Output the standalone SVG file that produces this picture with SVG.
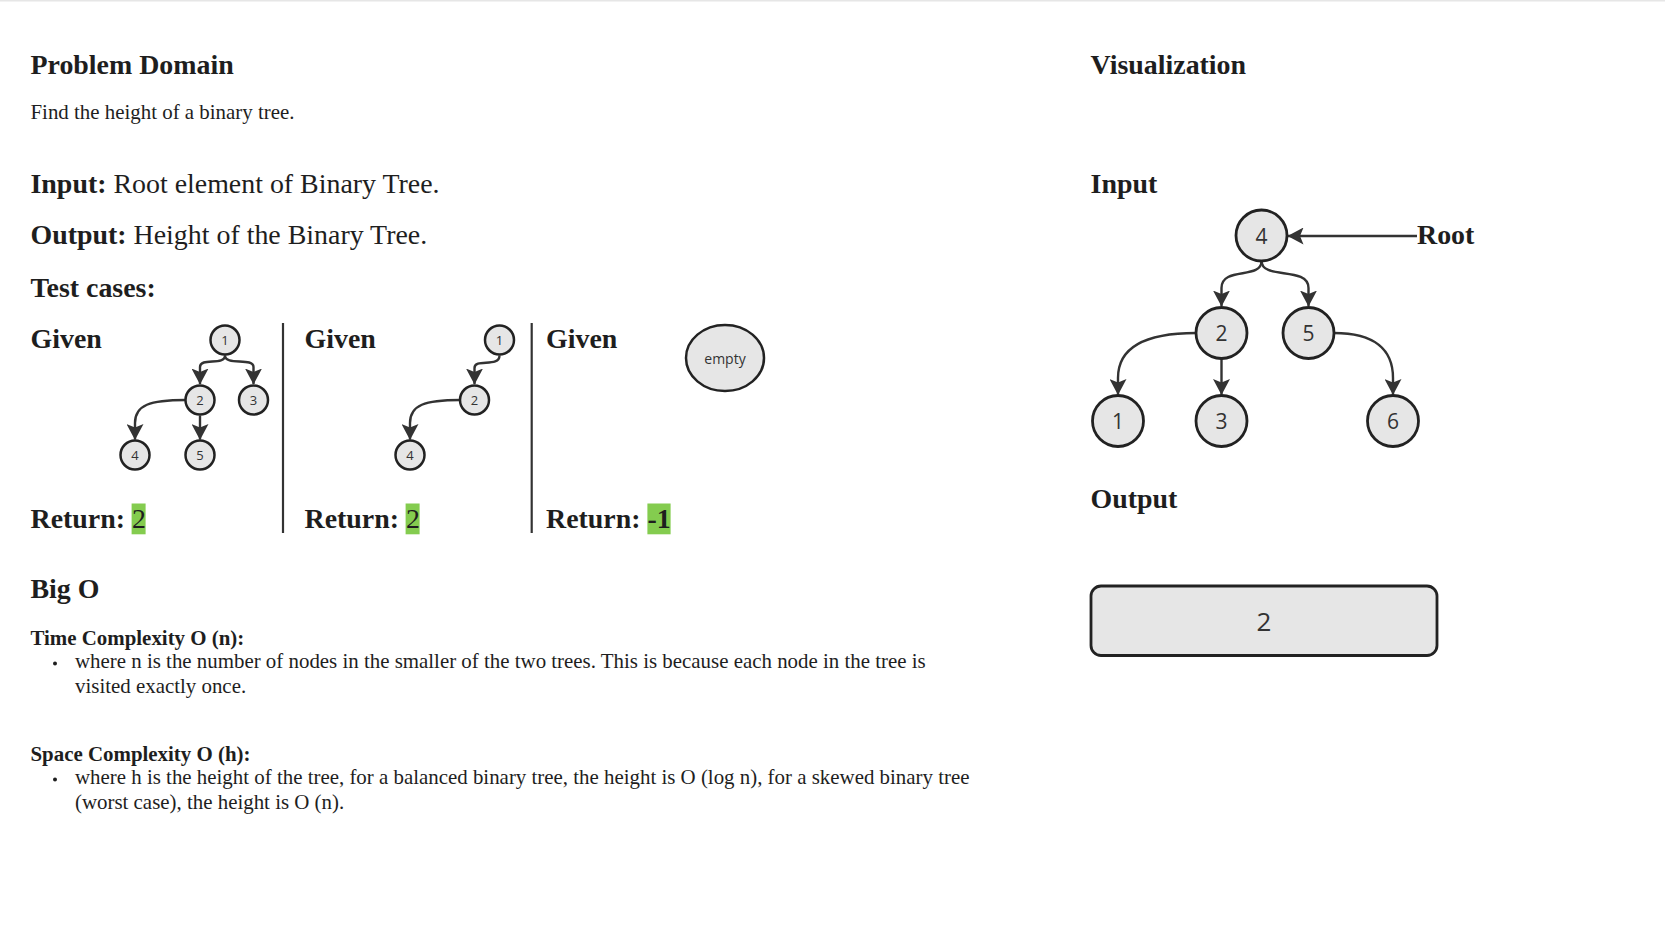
<svg xmlns="http://www.w3.org/2000/svg" width="1665" height="937" viewBox="0 0 1665 937">
<defs>
<style>
.h{font-family:"Liberation Serif","Times New Roman",serif;font-weight:bold;font-size:27.9px;fill:#1e1e1e}
.r{font-family:"Liberation Serif","Times New Roman",serif;font-weight:normal;fill:#1e1e1e}
.p{font-family:"Liberation Serif","Times New Roman",serif;font-size:20.9px;fill:#1e1e1e}
.pb{font-family:"Liberation Serif","Times New Roman",serif;font-size:20.9px;font-weight:bold;fill:#1e1e1e}
.node{fill:#e6e6e6;stroke:#222;stroke-width:2.5}
.bn{fill:#e6e6e6;stroke:#222;stroke-width:2.8}
.lbl{font-family:"Open Sans","Noto Sans",sans-serif;fill:#333;text-anchor:middle;dominant-baseline:central}
.edge{fill:none;stroke:#333;stroke-width:2.4}
.sep{stroke:#333;stroke-width:2.2}
.hl{fill:#84cc4f}
</style>
<marker id="ah" viewBox="0 0 16 17" refX="15.5" refY="8.5" markerWidth="16" markerHeight="17" markerUnits="userSpaceOnUse" orient="auto">
<path d="M0,0 L16,8.5 L0,17 L3.5,8.5 Z" fill="#333"/>
</marker>
</defs>
<rect width="1665" height="937" fill="#ffffff"/>
<rect x="0" y="0" width="1665" height="1.5" fill="#e6e6e6"/>

<g id="problem-text">
<text class="h" x="30.5" y="74.3">Problem Domain</text>
<text class="r" x="30.5" y="119" font-size="20.9">Find the height of a binary tree.</text>
<text class="h" x="30.5" y="193.3">Input:<tspan class="r"> Root element of Binary Tree.</tspan></text>
<text class="h" x="30.5" y="244">Output:<tspan class="r"> Height of the Binary Tree.</tspan></text>
<text class="h" x="30.5" y="296.7">Test cases:</text>
</g>

<g id="separators">
<line class="sep" x1="283" y1="323" x2="283" y2="533"/>
<line class="sep" x1="531.7" y1="323" x2="531.7" y2="533"/>
</g>

<g id="case1">
<text class="h" x="30.5" y="348">Given</text>
<rect class="hl" x="131.6" y="503.5" width="14" height="30.8"/>
<text class="h" x="30.5" y="528.3">Return: <tspan class="r">2</tspan></text>
</g>
<g id="case2">
<text class="h" x="304.5" y="348">Given</text>
<rect class="hl" x="405.6" y="503.5" width="14" height="30.8"/>
<text class="h" x="304.5" y="528.3">Return: <tspan class="r">2</tspan></text>
</g>
<g id="case3">
<text class="h" x="546" y="348">Given</text>
<rect class="hl" x="647.4" y="503.5" width="23.2" height="30.8"/>
<text class="h" x="546" y="528.3">Return: -1</text>
</g>

<g id="connectors">
<path class="edge" marker-end="url(#ah)" d="M225,355.5 C225,366 200,357 200,367 L200,384"/>
<path class="edge" marker-end="url(#ah)" d="M225,355.5 C225,366 253.5,357 253.5,367 L253.5,384"/>
<path class="edge" marker-end="url(#ah)" d="M185.5,400 C150,400 135,405 135,423 L135,439.5"/>
<path class="edge" marker-end="url(#ah)" d="M200,415.5 L200,439.5"/>
<path class="edge" marker-end="url(#ah)" d="M499.5,355.5 C499.5,368 474.5,358 474.5,368 L474.5,384"/>
<path class="edge" marker-end="url(#ah)" d="M460,400 C425,400 410,405 410,423 L410,439.5"/>
<path class="edge" marker-end="url(#ah)" d="M1417,236 L1288,236"/>
<path class="edge" marker-end="url(#ah)" d="M1261.5,261 C1261.5,280 1221.5,266 1221.5,288 L1221.5,306"/>
<path class="edge" marker-end="url(#ah)" d="M1261.5,261 C1261.5,280 1308.5,266 1308.5,288 L1308.5,306"/>
<path class="edge" marker-end="url(#ah)" d="M1196,333 C1140,333 1118,350 1118,378 L1118,394.5"/>
<path class="edge" marker-end="url(#ah)" d="M1221.5,358.5 L1221.5,394.5"/>
<path class="edge" marker-end="url(#ah)" d="M1334,333 C1375,333 1393,350 1393,378 L1393,394.5"/>
</g>

<g id="t1n1"><circle class="node" cx="225" cy="340" r="14.5"/><text class="lbl" x="225" y="340" font-size="13">1</text></g>
<g id="t1n2"><circle class="node" cx="200" cy="400" r="14.5"/><text class="lbl" x="200" y="400" font-size="13">2</text></g>
<g id="t1n3"><circle class="node" cx="253.5" cy="400" r="14.5"/><text class="lbl" x="253.5" y="400" font-size="13">3</text></g>
<g id="t1n4"><circle class="node" cx="135" cy="455" r="14.5"/><text class="lbl" x="135" y="455" font-size="13">4</text></g>
<g id="t1n5"><circle class="node" cx="200" cy="455" r="14.5"/><text class="lbl" x="200" y="455" font-size="13">5</text></g>

<g id="t2n1"><circle class="node" cx="499.5" cy="340" r="14.5"/><text class="lbl" x="499.5" y="340" font-size="13">1</text></g>
<g id="t2n2"><circle class="node" cx="474.5" cy="400" r="14.5"/><text class="lbl" x="474.5" y="400" font-size="13">2</text></g>
<g id="t2n4"><circle class="node" cx="410" cy="455" r="14.5"/><text class="lbl" x="410" y="455" font-size="13">4</text></g>

<g id="empty"><ellipse class="node" cx="725" cy="358" rx="39" ry="33"/><text class="lbl" x="725" y="358" font-size="14">empty</text></g>

<g id="bigo">
<text class="h" x="30.5" y="598.3">Big O</text>
<text class="pb" x="30.5" y="644.5">Time Complexity O (n):</text>
<circle cx="55" cy="663.5" r="2" fill="#1e1e1e"/>
<text class="p" x="75" y="668">where n is the number of nodes in the smaller of the two trees. This is because each node in the tree is</text>
<text class="p" x="75" y="692.5">visited exactly once.</text>
<text class="pb" x="30.5" y="760.5">Space Complexity O (h):</text>
<circle cx="55" cy="779.5" r="2" fill="#1e1e1e"/>
<text class="p" x="75" y="784">where h is the height of the tree, for a balanced binary tree, the height is O (log n), for a skewed binary tree</text>
<text class="p" x="75" y="808.5">(worst case), the height is O (n).</text>
</g>

<g id="viz-headings">
<text class="h" x="1090.6" y="74.3">Visualization</text>
<text class="h" x="1090.6" y="193">Input</text>
<text class="h" x="1090.6" y="507.5">Output</text>
</g>

<g id="root-label"><text class="h" x="1417" y="243.5">Root</text></g>

<g id="n4"><circle class="bn" cx="1261.5" cy="235.5" r="25.5"/><text class="lbl" x="1261.5" y="235.5" font-size="21">4</text></g>
<g id="n2"><circle class="bn" cx="1221.5" cy="333" r="25.5"/><text class="lbl" x="1221.5" y="333" font-size="21">2</text></g>
<g id="n5"><circle class="bn" cx="1308.5" cy="333" r="25.5"/><text class="lbl" x="1308.5" y="333" font-size="21">5</text></g>
<g id="n1"><circle class="bn" cx="1118" cy="421" r="25.5"/><text class="lbl" x="1118" y="421" font-size="21">1</text></g>
<g id="n3"><circle class="bn" cx="1221.5" cy="421" r="25.5"/><text class="lbl" x="1221.5" y="421" font-size="21">3</text></g>
<g id="n6"><circle class="bn" cx="1393" cy="421" r="25.5"/><text class="lbl" x="1393" y="421" font-size="21">6</text></g>

<g id="output-box"><rect class="bn" x="1091" y="586" width="346" height="69.5" rx="10"/><text class="lbl" x="1264" y="621" font-size="26">2</text></g>
</svg>
